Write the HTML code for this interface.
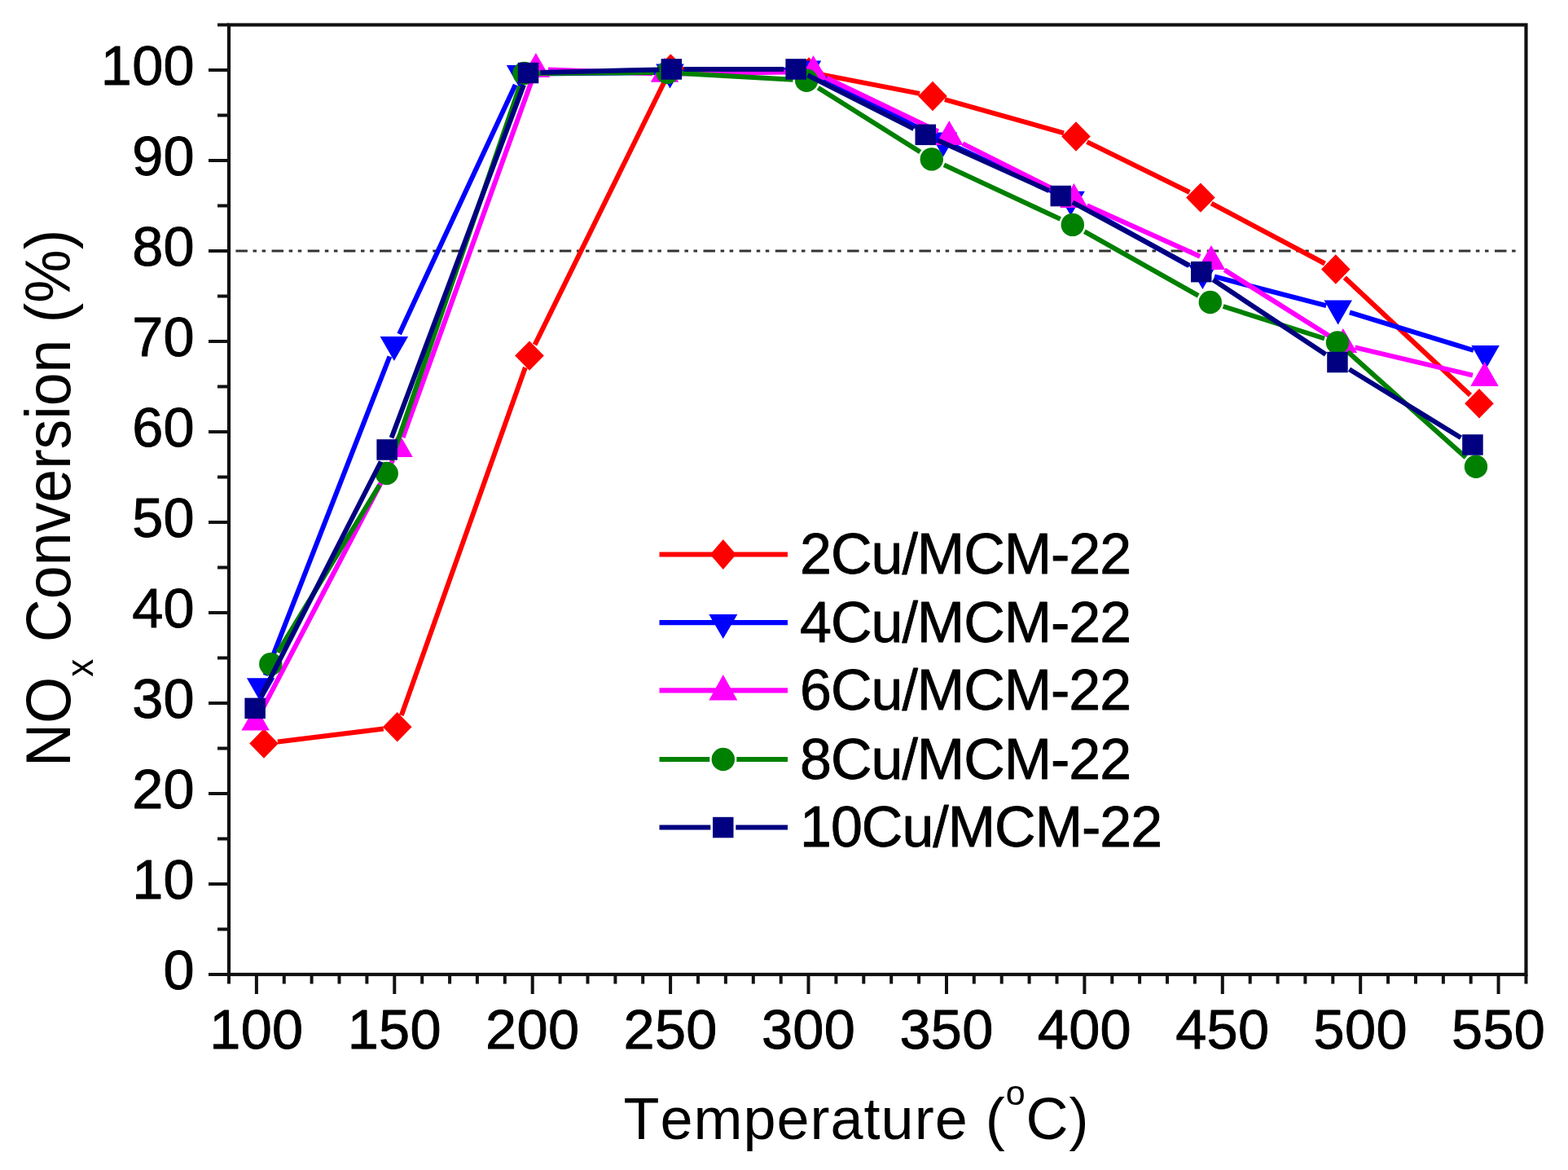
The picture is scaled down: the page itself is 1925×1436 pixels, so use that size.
<!DOCTYPE html>
<html><head><meta charset="utf-8"><title>NOx Conversion vs Temperature</title>
<style>html,body{margin:0;padding:0;background:#fff;}svg{display:block;}text{font-kerning:none;}</style>
</head><body><svg width='1925' height='1436' viewBox='0 0 1925 1436'><rect x='281.0' y='30.5' width='1592.5' height='1165.5' fill='none' stroke='#111' stroke-width='4.2'/><path d='M256 1196.0H281.0M256 1085.0H281.0M256 974.0H281.0M256 863.0H281.0M256 752.0H281.0M256 641.0H281.0M256 530.0H281.0M256 419.0H281.0M256 308.0H281.0M256 197.0H281.0M256 86.0H281.0M267 1140.5H281.0M267 1029.5H281.0M267 918.5H281.0M267 807.5H281.0M267 696.5H281.0M267 585.5H281.0M267 474.5H281.0M267 363.5H281.0M267 252.5H281.0M267 141.5H281.0M267 30.5H281.0M281.0 1196.0V1207.5M314.9 1196.0V1220M348.8 1196.0V1207.5M382.6 1196.0V1207.5M416.5 1196.0V1207.5M450.4 1196.0V1207.5M484.3 1196.0V1220M518.2 1196.0V1207.5M552.1 1196.0V1207.5M585.9 1196.0V1207.5M619.8 1196.0V1207.5M653.7 1196.0V1220M687.6 1196.0V1207.5M721.5 1196.0V1207.5M755.4 1196.0V1207.5M789.2 1196.0V1207.5M823.1 1196.0V1220M857.0 1196.0V1207.5M890.9 1196.0V1207.5M924.8 1196.0V1207.5M958.7 1196.0V1207.5M992.5 1196.0V1220M1026.4 1196.0V1207.5M1060.3 1196.0V1207.5M1094.2 1196.0V1207.5M1128.1 1196.0V1207.5M1162.0 1196.0V1220M1195.8 1196.0V1207.5M1229.7 1196.0V1207.5M1263.6 1196.0V1207.5M1297.5 1196.0V1207.5M1331.4 1196.0V1220M1365.3 1196.0V1207.5M1399.1 1196.0V1207.5M1433.0 1196.0V1207.5M1466.9 1196.0V1207.5M1500.8 1196.0V1220M1534.7 1196.0V1207.5M1568.6 1196.0V1207.5M1602.4 1196.0V1207.5M1636.3 1196.0V1207.5M1670.2 1196.0V1220M1704.1 1196.0V1207.5M1738.0 1196.0V1207.5M1771.9 1196.0V1207.5M1805.7 1196.0V1207.5M1839.6 1196.0V1220M1873.5 1196.0V1207.5' stroke='#111' stroke-width='4.0' fill='none'/><g font-family="'Liberation Sans', Arial, Helvetica, sans-serif" font-size='68.5' letter-spacing='0.3' fill='#000' stroke='#000' stroke-width='0.9' stroke-linejoin='round'><text x='239' y='1213.8' text-anchor='end'>0</text><text x='239' y='1102.8' text-anchor='end'>10</text><text x='239' y='991.8' text-anchor='end'>20</text><text x='239' y='880.8' text-anchor='end'>30</text><text x='239' y='769.8' text-anchor='end'>40</text><text x='239' y='658.8' text-anchor='end'>50</text><text x='239' y='547.8' text-anchor='end'>60</text><text x='239' y='436.8' text-anchor='end'>70</text><text x='239' y='325.8' text-anchor='end'>80</text><text x='239' y='214.8' text-anchor='end'>90</text><text x='239' y='103.8' text-anchor='end'>100</text><text x='314.9' y='1286.8' text-anchor='middle'>100</text><text x='484.3' y='1286.8' text-anchor='middle'>150</text><text x='653.7' y='1286.8' text-anchor='middle'>200</text><text x='823.1' y='1286.8' text-anchor='middle'>250</text><text x='992.5' y='1286.8' text-anchor='middle'>300</text><text x='1162.0' y='1286.8' text-anchor='middle'>350</text><text x='1331.4' y='1286.8' text-anchor='middle'>400</text><text x='1500.8' y='1286.8' text-anchor='middle'>450</text><text x='1670.2' y='1286.8' text-anchor='middle'>500</text><text x='1839.6' y='1286.8' text-anchor='middle'>550</text></g><path d='M289.4 308.0H1862' stroke='#333' stroke-width='3' stroke-dasharray='14.5 6.6 4.5 6.6 4.5 7.46' fill='none'/><path d='M340.9 910.4L470.8 894.4M492.8 878.0L644.9 450.9M656.6 423.1L816.8 98.0M841.8 84.9L974.6 88.1M1008.9 91.6L1129.1 114.9M1159.9 122.2L1306.1 163.3M1334.5 174.1L1460.4 236.0M1487.2 249.6L1626.5 323.5M1650.8 340.7L1805.0 485.0' stroke='#FF0000' stroke-width='6.0' fill='none' stroke-linecap='butt'/><path d='M324.0 894.3L341.8 912.5L324.0 930.7L306.2 912.5Z' fill='#FF0000'/><path d='M487.7 874.1L505.5 892.3L487.7 910.5L469.9 892.3Z' fill='#FF0000'/><path d='M650.0 418.4L667.8 436.6L650.0 454.8L632.2 436.6Z' fill='#FF0000'/><path d='M823.4 66.3L841.2 84.5L823.4 102.7L805.6 84.5Z' fill='#FF0000'/><path d='M993.0 70.3L1010.8 88.5L993.0 106.7L975.2 88.5Z' fill='#FF0000'/><path d='M1145.0 99.8L1162.8 118.0L1145.0 136.2L1127.2 118.0Z' fill='#FF0000'/><path d='M1321.0 149.3L1338.8 167.5L1321.0 185.7L1303.2 167.5Z' fill='#FF0000'/><path d='M1473.9 224.4L1491.7 242.6L1473.9 260.8L1456.1 242.6Z' fill='#FF0000'/><path d='M1639.8 312.3L1657.6 330.5L1639.8 348.7L1622.0 330.5Z' fill='#FF0000'/><path d='M1816.0 477.0L1833.8 495.2L1816.0 513.4L1798.2 495.2Z' fill='#FF0000'/><path d='M325.7 828.8L478.4 437.5M490.2 409.9L632.7 104.1M654.0 90.4L807.5 89.1M837.5 88.6L976.0 85.4M1004.3 92.0L1141.0 164.1M1171.6 179.3L1298.3 237.8M1327.6 252.6L1459.0 325.9M1490.9 339.4L1628.2 375.2M1657.0 383.4L1809.0 430.0' stroke='#0000FF' stroke-width='6.0' fill='none' stroke-linecap='butt'/><path d='M302.9 832.3L337.4 832.3L320.2 862.3Z' fill='#0000FF'/><path d='M466.6 413.0L501.1 413.0L483.9 443.0Z' fill='#0000FF'/><path d='M621.8 80.0L656.2 80.0L639.0 110.0Z' fill='#0000FF'/><path d='M805.2 78.5L839.8 78.5L822.5 108.5Z' fill='#0000FF'/><path d='M973.8 74.5L1008.2 74.5L991.0 104.5Z' fill='#0000FF'/><path d='M1140.8 162.5L1175.2 162.5L1158.0 192.5Z' fill='#0000FF'/><path d='M1297.2 234.8L1331.8 234.8L1314.5 264.8Z' fill='#0000FF'/><path d='M1459.2 325.1L1493.7 325.1L1476.4 355.1Z' fill='#0000FF'/><path d='M1625.5 368.5L1660.0 368.5L1642.7 398.5Z' fill='#0000FF'/><path d='M1806.3 424.0L1840.8 424.0L1823.6 454.0Z' fill='#0000FF'/><path d='M320.7 873.1L482.5 564.3M494.6 536.9L652.8 99.1M672.9 85.5L801.0 90.2M831.0 90.5L983.5 88.2M1014.8 95.8L1151.8 161.5M1181.9 176.4L1305.0 238.3M1334.4 252.2L1473.3 314.8M1503.3 331.3L1636.2 415.0M1663.5 426.4L1808.0 460.6' stroke='#FF00FF' stroke-width='6.0' fill='none' stroke-linecap='butt'/><path d='M313.7 866.4L330.9 896.4L296.4 896.4Z' fill='#FF00FF'/><path d='M489.5 531.0L506.8 561.0L472.2 561.0Z' fill='#FF00FF'/><path d='M657.9 65.0L675.1 95.0L640.6 95.0Z' fill='#FF00FF'/><path d='M816.0 70.7L833.2 100.7L798.8 100.7Z' fill='#FF00FF'/><path d='M998.5 68.0L1015.8 98.0L981.2 98.0Z' fill='#FF00FF'/><path d='M1165.3 148.0L1182.5 178.0L1148.0 178.0Z' fill='#FF00FF'/><path d='M1318.4 225.0L1335.7 255.0L1301.2 255.0Z' fill='#FF00FF'/><path d='M1487.0 301.0L1504.2 331.0L1469.8 331.0Z' fill='#FF00FF'/><path d='M1648.9 403.0L1666.2 433.0L1631.7 433.0Z' fill='#FF00FF'/><path d='M1822.6 444.0L1839.8 474.0L1805.3 474.0Z' fill='#FF00FF'/><path d='M341.0 800.8L466.0 595.3M480.1 565.2L638.1 105.8M660.2 89.9L802.8 89.1M836.2 90.0L973.5 97.8M1004.3 107.7L1129.7 186.5M1158.9 202.4L1301.7 268.9M1331.4 284.1L1471.2 362.8M1501.7 376.0L1626.1 415.5M1654.4 431.6L1799.6 561.6' stroke='#008000' stroke-width='6.0' fill='none' stroke-linecap='butt'/><circle cx='332.3' cy='815.1' r='14.2' fill='#008000'/><circle cx='474.7' cy='581.0' r='14.2' fill='#008000'/><circle cx='643.5' cy='90.0' r='14.2' fill='#008000'/><circle cx='819.5' cy='89.0' r='14.2' fill='#008000'/><circle cx='990.2' cy='98.8' r='14.2' fill='#008000'/><circle cx='1143.8' cy='195.4' r='14.2' fill='#008000'/><circle cx='1316.8' cy='275.9' r='14.2' fill='#008000'/><circle cx='1485.8' cy='371.0' r='14.2' fill='#008000'/><circle cx='1642.0' cy='420.5' r='14.2' fill='#008000'/><circle cx='1812.0' cy='572.7' r='14.2' fill='#008000'/><path d='M320.5 854.9L467.7 566.5M480.6 537.4L643.0 104.1M663.5 89.1L809.4 85.4M839.4 85.0L962.1 84.9M991.6 92.2L1121.8 158.0M1150.9 171.9L1287.7 233.9M1316.8 248.3L1460.3 325.9M1489.2 343.3L1627.6 434.9M1656.5 453.3L1793.5 537.2' stroke='#000080' stroke-width='6.0' fill='none' stroke-linecap='butt'/><rect x='300.4' y='856.6' width='25.5' height='25.5' fill='#000080'/><rect x='462.4' y='539.2' width='25.5' height='25.5' fill='#000080'/><rect x='635.8' y='76.8' width='25.5' height='25.5' fill='#000080'/><rect x='811.6' y='72.2' width='25.5' height='25.5' fill='#000080'/><rect x='964.4' y='72.2' width='25.5' height='25.5' fill='#000080'/><rect x='1123.5' y='152.6' width='25.5' height='25.5' fill='#000080'/><rect x='1289.5' y='227.8' width='25.5' height='25.5' fill='#000080'/><rect x='1462.0' y='320.9' width='25.5' height='25.5' fill='#000080'/><rect x='1629.2' y='431.8' width='25.5' height='25.5' fill='#000080'/><rect x='1795.2' y='533.2' width='25.5' height='25.5' fill='#000080'/><path d='M809.5 680.5H967.0' stroke='#FF0000' stroke-width='6.2' stroke-linecap='butt'/><path d='M887.8 662.0L903.8 680.5L887.8 699.0L871.8 680.5Z' fill='#FF0000'/><text x='982' y='704.0' font-family="'Liberation Sans', Arial, Helvetica, sans-serif" font-size='70' letter-spacing='-1.0' fill='#000' stroke='#000' stroke-width='0.8' stroke-linejoin='round'>2Cu/MCM-22</text><path d='M809.5 764.1H967.0' stroke='#0000FF' stroke-width='6.2' stroke-linecap='butt'/><path d='M870.3 754.1L905.3 754.1L887.8 784.1Z' fill='#0000FF'/><text x='982' y='787.6' font-family="'Liberation Sans', Arial, Helvetica, sans-serif" font-size='70' letter-spacing='-1.0' fill='#000' stroke='#000' stroke-width='0.8' stroke-linejoin='round'>4Cu/MCM-22</text><path d='M809.5 847.4H967.0' stroke='#FF00FF' stroke-width='6.2' stroke-linecap='butt'/><path d='M887.8 827.9L905.3 859.4L870.3 859.4Z' fill='#FF00FF'/><text x='982' y='870.9' font-family="'Liberation Sans', Arial, Helvetica, sans-serif" font-size='70' letter-spacing='-1.0' fill='#000' stroke='#000' stroke-width='0.8' stroke-linejoin='round'>6Cu/MCM-22</text><path d='M809.5 932.0H871.3M904.3 932.0H967.0' stroke='#008000' stroke-width='6.2' stroke-linecap='butt'/><circle cx='887.8' cy='932.0' r='14.2' fill='#008000'/><text x='982' y='955.5' font-family="'Liberation Sans', Arial, Helvetica, sans-serif" font-size='70' letter-spacing='-1.0' fill='#000' stroke='#000' stroke-width='0.8' stroke-linejoin='round'>8Cu/MCM-22</text><path d='M809.5 1015.5H872.3M903.3 1015.5H967.0' stroke='#000080' stroke-width='6.2' stroke-linecap='butt'/><rect x='875.0' y='1002.8' width='25.5' height='25.5' fill='#000080'/><text x='982' y='1039.0' font-family="'Liberation Sans', Arial, Helvetica, sans-serif" font-size='70' letter-spacing='-1.0' fill='#000' stroke='#000' stroke-width='0.8' stroke-linejoin='round'>10Cu/MCM-22</text><text x='765.5' y='1397.6' font-family="'Liberation Sans', Arial, Helvetica, sans-serif" font-size='72' letter-spacing='1.0' fill='#000'>Temperature (<tspan font-size='43' dy='-42'>o</tspan><tspan dy='42'>C)</tspan></text><text transform='translate(86.0 941) rotate(-90) scale(0.98 1.035)' x='0' y='0' font-family="'Liberation Sans', Arial, Helvetica, sans-serif" font-size='75' fill='#000'>NO<tspan font-size='45' dy='27'>x</tspan><tspan dy='-27'> Conversion (%)</tspan></text></svg></body></html>
